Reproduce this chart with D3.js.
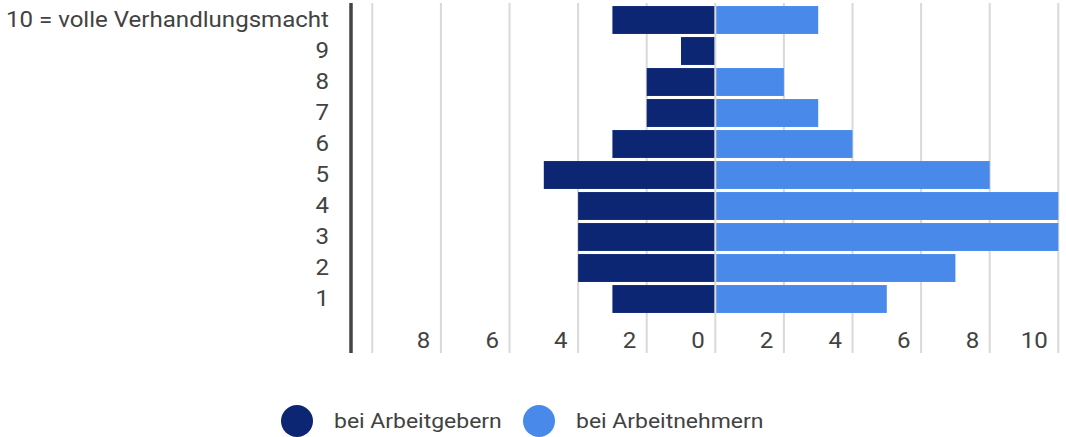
<!DOCTYPE html>
<html><head><meta charset="utf-8">
<script src="https://cdn.jsdelivr.net/npm/d3@7"></script>
<style>html,body{margin:0;padding:0;background:#fff;}svg{display:block;font-family:Roboto,sans-serif;}</style>
</head><body>
<svg id="c" width="1066" height="437"></svg>
<script>
const categories = ["10 = volle Verhandlungsmacht","9","8","7","6","5","4","3","2","1"];
const arbeitgeber = [3,1,2,2,3,5,4,4,4,3];
const arbeitnehmer = [3,0,2,3,4,8,10,10,7,5];
const gridValues = [-10,-8,-6,-4,-2,0,2,4,6,8,10];
const tickValues = [-8,-6,-4,-2,0,2,4,6,8,10];
const seriesNames = ["bei Arbeitgebern","bei Arbeitnehmern"];
const colors = ["#0c2674","#4989ea"];

const FS = 21.5, LFS = 20.5, FW = 400, TXT = "#424242", SX = 1.12;
const svg = d3.select("#c");
const x = d3.scaleLinear().domain([-10,10]).range([372.3,1058.3]);
const y = d3.scaleBand().domain(categories).range([4.5,314.5]).paddingInner(0.1).paddingOuter(0.05);
const plotTop = 3, plotBottom = 353;

// gridlines
svg.append("g").selectAll("line").data(gridValues.filter(v=>v!==0)).join("line")
  .attr("x1",d=>x(d)).attr("x2",d=>x(d)).attr("y1",plotTop).attr("y2",plotBottom)
  .attr("stroke","#d9d9d9").attr("stroke-width",2);

// bars
const rows = categories.map((c,i)=>({c, a:arbeitgeber[i], b:arbeitnehmer[i]}));
svg.append("g").selectAll("rect").data(rows).join("rect")
  .attr("x",d=>x(-d.a)).attr("width",d=>x(0)-x(-d.a)).attr("y",d=>y(d.c)).attr("height",y.bandwidth())
  .attr("fill",colors[0]);
svg.append("g").selectAll("rect").data(rows.filter(d=>d.b>0)).join("rect")
  .attr("x",x(0)).attr("width",d=>x(d.b)-x(0)).attr("y",d=>y(d.c)).attr("height",y.bandwidth())
  .attr("fill",colors[1]);

// zero line
svg.append("line").attr("x1",x(0)).attr("x2",x(0)).attr("y1",plotTop).attr("y2",plotBottom)
  .attr("stroke","#d9d9d9").attr("stroke-width",2);

// x tick labels
const xAxis = d3.axisBottom(x).tickValues(tickValues).tickFormat(d=>Math.abs(d)).tickSize(0).tickPadding(0);
const gx = svg.append("g").attr("transform","translate(0,340)").call(xAxis);
gx.select(".domain").remove();
gx.selectAll("text").attr("text-anchor","end").attr("x",-11/SX).attr("dy","0.35em")
  .attr("y",0).attr("transform",`scale(${SX},1)`)
  .attr("font-size",FS).attr("font-weight",FW).attr("font-family","Roboto, sans-serif").attr("fill",TXT);

// y axis labels
const yAxis = d3.axisLeft(y).tickSize(0).tickPadding(0);
const gy = svg.append("g").attr("transform","translate(329,0)").call(yAxis);
gy.select(".domain").remove();
gy.selectAll("text").attr("font-size",FS).attr("font-weight",FW).attr("font-family","Roboto, sans-serif")
  .attr("fill",TXT).attr("x",0).attr("transform",`scale(${SX},1)`);

// axis line
svg.append("line").attr("x1",351).attr("x2",351).attr("y1",plotTop).attr("y2",plotBottom)
  .attr("stroke","#444").attr("stroke-width",3.5);

// legend
const legX = [297,539];
const lg = svg.append("g").selectAll("g").data(seriesNames).join("g")
  .attr("transform",(d,i)=>`translate(${legX[i]},421)`);
lg.append("circle").attr("r",16).attr("fill",(d,i)=>colors[i]);
lg.append("text").attr("transform",`translate(37,0) scale(${SX},1)`).attr("dy","0.35em")
  .attr("font-size",LFS).attr("font-weight",FW).attr("font-family","Roboto, sans-serif").attr("fill",TXT).text(d=>d);
</script>
</body></html>
